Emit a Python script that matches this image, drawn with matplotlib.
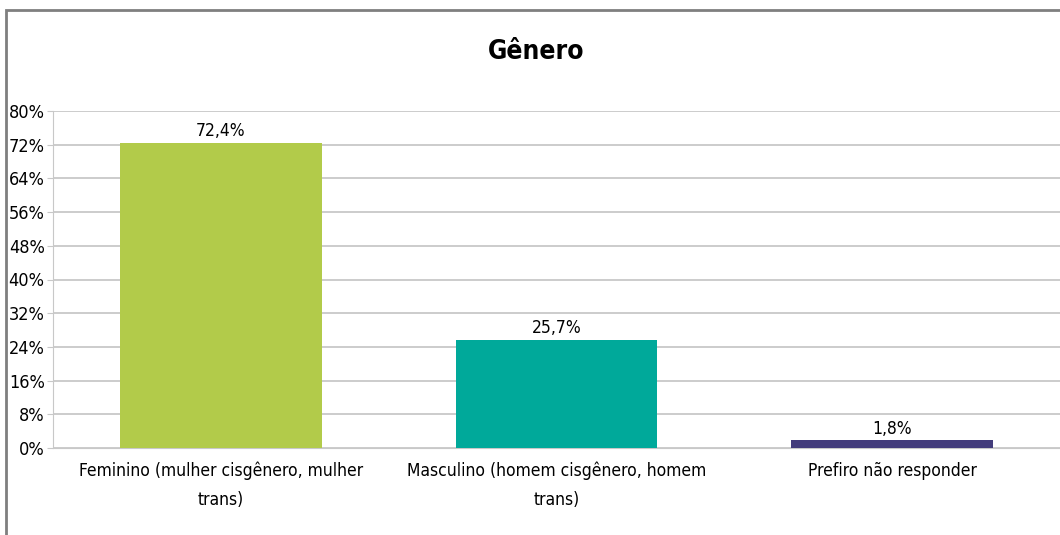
import matplotlib.pyplot as plt
from matplotlib.patches import Rectangle

# dados
categorias = ['Feminino (mulher cisgênero, mulher\ntrans)',
              'Masculino (homem cisgênero, homem\ntrans)',
              'Prefiro não responder']
valores = [72.4, 25.7, 1.8]
rotulos = ['72,4%', '25,7%', '1,8%']
cores = ['#B2CB4A', '#00A99A', '#433C7B']
yticks = [0, 8, 16, 24, 32, 40, 48, 56, 64, 72, 80]

plt.rcParams['font.family'] = ['DejaVu Sans']
plt.rcParams['font.stretch'] = 'condensed'

fig = plt.figure(figsize=(10.6, 5.35), dpi=100)
# moldura do gráfico
fig.patches.append(Rectangle((6 / 1060, -0.1), 1.1, 1 - 10 / 535 + 0.1,
                             transform=fig.transFigure, fill=False,
                             edgecolor='#7F7F7F', linewidth=2))

ax = fig.add_axes([53 / 1060, (535 - 448) / 535, 1 - 53 / 1060, 337 / 535])
x = range(len(categorias))
ax.bar(x, valores, width=0.6, color=cores, zorder=3)
for i, v in enumerate(valores):
    ax.text(i, v + 0.6, rotulos[i], ha='center', va='bottom', fontsize=12.5)

ax.set_xlim(-0.5, 2.5)
ax.set_ylim(0, 80)
ax.set_yticks(yticks)
ax.set_yticklabels([f'{t}%' for t in yticks], fontsize=13)
ax.set_xticks(list(x))
ax.set_xticklabels(categorias, fontsize=12.5, linespacing=1.75)
ax.tick_params(axis='x', length=0, pad=10)
ax.tick_params(axis='y', length=4, color='#C8C8C8', pad=2)
ax.grid(axis='y', color='#C8C8C8', linewidth=1.3, zorder=0)
for s in ['top', 'right']:
    ax.spines[s].set_visible(False)
ax.spines['left'].set_color('#C8C8C8')
ax.spines['bottom'].set_color('#C8C8C8')

fig.text(536 / 1060, 1 - 52 / 535, 'Gênero', ha='center', va='center',
         fontsize=19, fontweight='bold')

plt.savefig('out.png', dpi=100)
